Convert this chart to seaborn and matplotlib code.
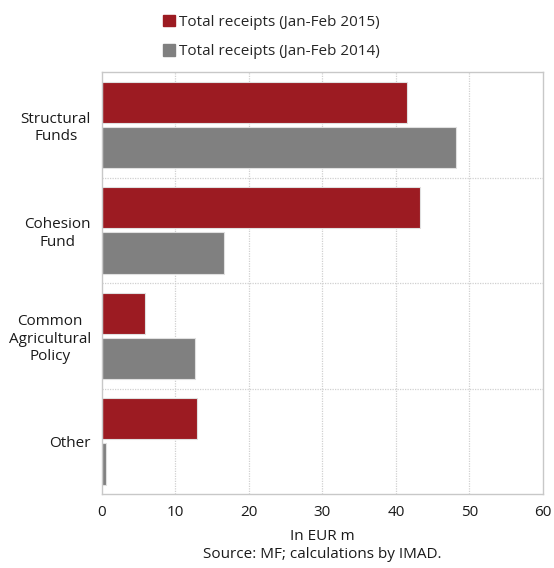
import pandas as pd
import matplotlib.pyplot as plt
import seaborn as sns

# Dados (EUR m)
categorias = ['Structural\nFunds', 'Cohesion\nFund', 'Common\nAgricultural\nPolicy', 'Other']
receitas_2015 = [41.5, 43.3, 5.9, 13.0]
receitas_2014 = [48.2, 16.6, 12.7, 0.5]
series = ['Total receipts (Jan-Feb 2015)', 'Total receipts (Jan-Feb 2014)']
cores = ['#9c1b22', '#808080']

df = pd.DataFrame({
    'Categoria': categorias * 2,
    'Serie': [series[0]] * 4 + [series[1]] * 4,
    'Valor': receitas_2015 + receitas_2014,
})

sns.set_style('white')
plt.rcParams['font.family'] = ['Open Sans', 'DejaVu Sans']

fig = plt.figure(figsize=(5.54, 5.68), dpi=100)
ax = fig.add_axes([0.184, 0.130, 0.796, 0.743])

sns.barplot(data=df, y='Categoria', x='Valor', hue='Serie', orient='h',
            palette=cores, saturation=1, width=0.86, gap=0.09,
            edgecolor='#e0e0e0', linewidth=0.8, ax=ax, legend=False)

ax.set_xlim(0, 60)
ax.set_ylim(3.5, -0.5)
ax.set_xticks(range(0, 61, 10))

# Grade pontilhada: vertical nos ticks, horizontal entre categorias
for x in range(10, 60, 10):
    ax.axvline(x, color='#d0d0d0', linestyle=(0, (1, 1)), linewidth=0.9, zorder=0)
for y in [0.5, 1.5, 2.5]:
    ax.axhline(y, color='#d0d0d0', linestyle=(0, (1, 1)), linewidth=0.9, zorder=0)

for s in ax.spines.values():
    s.set_color('#c8c8c8')
    s.set_linewidth(1.0)

ax.tick_params(axis='both', length=0, labelsize=11, colors='#1a1a1a', pad=8)
for lbl in ax.get_yticklabels():
    lbl.set_multialignment('center')

ax.set_ylabel('')
ax.set_xlabel('In EUR m\nSource: MF; calculations by IMAD.', fontsize=11,
              color='#1a1a1a', labelpad=6, linespacing=1.3)

handles = [plt.Rectangle((0, 0), 1, 1, color=c) for c in cores]
fig.legend(handles, series, loc='upper left', bbox_to_anchor=(0.27, 0.998),
           frameon=False, fontsize=11, handlelength=0.75, handleheight=0.75,
           handletextpad=0.3, labelspacing=0.95)

fig.savefig('out.png', dpi=100)
